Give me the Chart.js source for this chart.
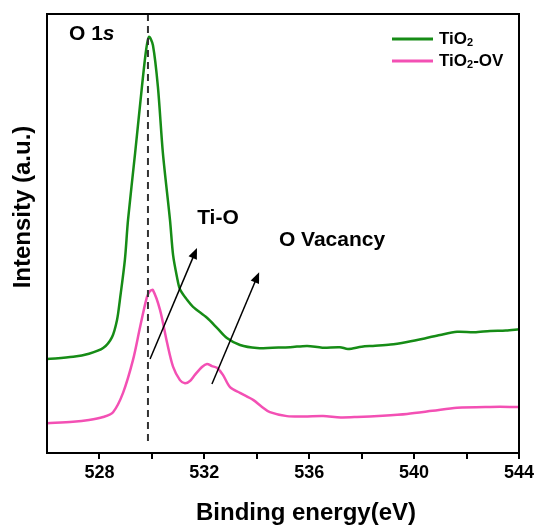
<!DOCTYPE html>
<html>
<head>
<meta charset="utf-8">
<script src="https://cdn.jsdelivr.net/npm/chart.js@4.4.1/dist/chart.umd.min.js"></script>
<style>
  html, body { margin: 0; padding: 0; background: #fff; }
  #wrap { width: 540px; height: 527px; }
</style>
</head>
<body>
<div id="wrap"><canvas id="xps"></canvas></div>
<script>
// O 1s spectra (binding energy in eV, intensity in a.u.)
const tio2X = [526.0, 527.0, 527.6, 528.14, 528.48, 528.67, 528.78, 528.97, 529.09, 529.36, 529.62, 529.78, 529.89,
  530.04, 530.23, 530.42, 530.69, 530.81, 530.96, 531.07, 531.34, 531.57, 532.1, 532.5, 532.86, 533.36, 534.01,
  534.6, 535.27, 535.92, 536.5, 537.17, 537.48, 538.0, 538.43, 539.1, 539.73, 540.4, 540.99, 541.64, 542.3, 542.9, 543.5, 544.0];
const tio2Y = [21.4, 21.9, 22.6, 23.9, 26.4, 30.3, 34.9, 44.0, 53.1, 68.3, 83.4, 91.8, 94.8,
  92.9, 83.4, 68.3, 53.1, 45.0, 40.0, 37.3, 34.9, 33.3, 30.8, 28.4, 26.2, 24.6, 23.9,
  24.0, 24.1, 24.4, 24.0, 24.1, 23.7, 24.2, 24.4, 24.7, 25.3, 26.1, 26.9, 27.6, 27.5, 27.8, 27.9, 28.2];

const ovX = [526.0, 526.99, 527.6, 528.14, 528.52, 528.9, 529.28, 529.55, 529.81, 529.93, 530.04, 530.31, 530.58,
  530.81, 531.07, 531.26, 531.45, 531.64, 531.91, 532.1, 532.29, 532.48, 532.71, 532.98, 533.36, 533.86, 534.2,
  534.5, 535.15, 535.8, 536.53, 537.2, 537.82, 538.8, 539.73, 540.7, 541.64, 542.9, 544.0];
const ovY = [6.8, 7.1, 7.5, 8.2, 9.3, 13.7, 21.2, 28.7, 35.5, 36.9, 37.1, 32.6, 25.1,
  19.6, 16.6, 15.9, 16.4, 17.8, 19.6, 20.3, 19.8, 19.4, 17.8, 15.0, 13.7, 12.1, 10.5,
  9.3, 8.4, 8.3, 8.4, 8.1, 8.2, 8.5, 8.9, 9.6, 10.3, 10.5, 10.5];

const xTicks = [528, 532, 536, 540, 544];
const refLine = 529.85;

const FONT = '"Liberation Sans", Arial, sans-serif';

function toPoints(xs, ys) {
  return xs.map((x, i) => ({ x: x, y: ys[i] }));
}

function arrow(ctx, x1, y1, x2, y2) {
  const ang = Math.atan2(y2 - y1, x2 - x1);
  const hl = 11, hw = 4.5;
  ctx.beginPath();
  ctx.moveTo(x1, y1);
  ctx.lineTo(x2 - Math.cos(ang) * hl * 0.8, y2 - Math.sin(ang) * hl * 0.8);
  ctx.stroke();
  ctx.beginPath();
  ctx.moveTo(x2, y2);
  ctx.lineTo(x2 - Math.cos(ang) * hl + Math.sin(ang) * hw, y2 - Math.sin(ang) * hl - Math.cos(ang) * hw);
  ctx.lineTo(x2 - Math.cos(ang) * hl - Math.sin(ang) * hw, y2 - Math.sin(ang) * hl + Math.cos(ang) * hw);
  ctx.closePath();
  ctx.fill();
}

const decor = {
  id: 'decor',
  afterDatasetsDraw(chart) {
    const ctx = chart.ctx;
    const xs = chart.scales.x, ys = chart.scales.y;
    const a = chart.chartArea;
    ctx.save();

    // dashed reference line
    ctx.strokeStyle = '#333';
    ctx.lineWidth = 2;
    ctx.setLineDash([7, 5]);
    ctx.beginPath();
    ctx.moveTo(xs.getPixelForValue(refLine), ys.getPixelForValue(100));
    ctx.lineTo(xs.getPixelForValue(refLine), ys.getPixelForValue(2.5));
    ctx.stroke();
    ctx.setLineDash([]);

    // arrows
    ctx.strokeStyle = '#000';
    ctx.fillStyle = '#000';
    ctx.lineWidth = 1.5;
    arrow(ctx, xs.getPixelForValue(529.93), ys.getPixelForValue(21.4), xs.getPixelForValue(531.72), ys.getPixelForValue(46.7));
    arrow(ctx, xs.getPixelForValue(532.29), ys.getPixelForValue(15.7), xs.getPixelForValue(534.09), ys.getPixelForValue(41.2));

    // labels
    ctx.textBaseline = 'middle';
    ctx.textAlign = 'center';
    ctx.font = 'bold 21px ' + FONT;
    ctx.fillText('Ti-O', xs.getPixelForValue(532.52), ys.getPixelForValue(53.5));
    ctx.fillText('O Vacancy', xs.getPixelForValue(536.87), ys.getPixelForValue(48.5));

    ctx.textAlign = 'left';
    let ox = xs.getPixelForValue(526.84), oy = ys.getPixelForValue(95.4);
    ctx.font = 'bold 21px ' + FONT;
    ctx.fillText('O 1', ox, oy);
    ox += ctx.measureText('O 1').width;
    ctx.font = 'italic bold 21px ' + FONT;
    ctx.fillText('s', ox, oy);

    // legend
    const legend = [
      { color: '#168c16', parts: ['TiO', '2', ''] },
      { color: '#f350b4', parts: ['TiO', '2', '-OV'] }
    ];
    legend.forEach((it, i) => {
      const ly = 39 + i * 22;
      ctx.strokeStyle = it.color;
      ctx.lineWidth = 3;
      ctx.beginPath();
      ctx.moveTo(392, ly);
      ctx.lineTo(433, ly);
      ctx.stroke();
      let tx = 439;
      ctx.fillStyle = '#000';
      ctx.font = 'bold 17px ' + FONT;
      ctx.fillText(it.parts[0], tx, ly);
      tx += ctx.measureText(it.parts[0]).width;
      ctx.font = 'bold 11px ' + FONT;
      ctx.fillText(it.parts[1], tx, ly + 4);
      tx += ctx.measureText(it.parts[1]).width;
      ctx.font = 'bold 17px ' + FONT;
      ctx.fillText(it.parts[2], tx, ly);
    });

    // frame
    ctx.strokeStyle = '#000';
    ctx.lineWidth = 2;
    ctx.strokeRect(a.left, a.top, a.right - a.left, a.bottom - a.top);

    // axis titles
    ctx.fillStyle = '#000';
    ctx.textAlign = 'center';
    ctx.font = 'bold 24px ' + FONT;
    ctx.fillText('Binding energy(eV)', 306, 513);
    ctx.translate(23, 207);
    ctx.rotate(-Math.PI / 2);
    ctx.fillText('Intensity (a.u.)', 0, 0);
    ctx.restore();
  }
};

new Chart(document.getElementById('xps'), {
  type: 'line',
  data: {
    datasets: [{
      label: 'TiO2',
      data: toPoints(tio2X, tio2Y),
      borderColor: '#168c16',
      borderWidth: 2.5,
      pointRadius: 0,
      tension: 0.3,
      fill: false
    }, {
      label: 'TiO2-OV',
      data: toPoints(ovX, ovY),
      borderColor: '#f350b4',
      borderWidth: 2.5,
      pointRadius: 0,
      tension: 0.3,
      fill: false
    }]
  },
  options: {
    responsive: true,
    maintainAspectRatio: false,
    animation: false,
    layout: { padding: { left: 47, top: 14, right: 21, bottom: 0 } },
    plugins: { legend: { display: false }, tooltip: { enabled: false } },
    scales: {
      x: {
        type: 'linear',
        min: 526,
        max: 544,
        afterFit: (s) => { s.height = 74; },
        afterBuildTicks: (s) => {
          s.ticks = [];
          for (let v = 526; v <= 544; v += 2) s.ticks.push({ value: v });
        },
        ticks: {
          color: '#000',
          padding: 3,
          maxRotation: 0,
          autoSkip: false,
          font: { family: FONT, size: 18, weight: 'bold' },
          callback: (v) => xTicks.includes(v) ? String(v) : ''
        },
        grid: {
          drawOnChartArea: false,
          drawTicks: true,
          tickLength: 6,
          lineWidth: 2,
          color: (c) => (c.tick && c.tick.value === 526) ? 'rgba(0,0,0,0)' : '#000'
        },
        border: { display: true, color: '#000', width: 2 }
      },
      y: {
        display: false,
        min: 0,
        max: 100
      }
    }
  },
  plugins: [decor]
});
</script>
</body>
</html>
